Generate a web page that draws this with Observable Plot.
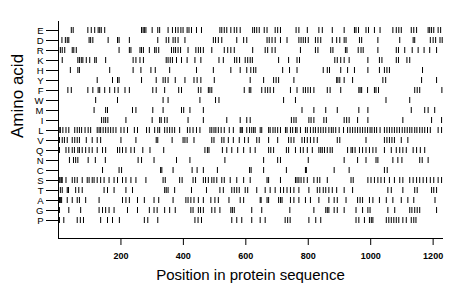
<!DOCTYPE html>
<html><head><meta charset="utf-8">
<script src="https://cdn.jsdelivr.net/npm/d3@7"></script>
<script src="https://cdn.jsdelivr.net/npm/@observablehq/plot@0.6"></script>
<style>body{margin:0;background:#fff;} svg{display:block}</style>
</head><body><div id="chart"></div>
<script>
const aminoAcids = ["E","D","R","K","H","Y","F","W","M","I","L","V","Q","N","C","S","T","A","G","P"];
const posE = [41,47,94,105,116,127,132,137,148,266,271,275,280,300,318,324,351,365,375,383,392,399,412,418,426,442,458,517,523,531,539,552,563,571,582,622,628,635,643,659,668,694,702,711,761,770,797,834,845,877,915,948,953,961,985,993,1012,1030,1071,1082,1090,1098,1130,1138,1147,1184,1189,1195,1202,1216,1224];
const posD = [11,22,28,33,98,103,110,159,189,194,227,318,345,353,367,374,383,405,496,503,512,523,571,593,603,668,675,684,694,711,732,770,777,784,791,800,823,831,840,877,891,901,915,921,964,971,1023,1093,1136,1141,1191,1200,1208,1222,1229];
const posR = [6,12,20,44,49,57,194,227,232,261,266,272,291,308,313,321,362,369,375,383,391,415,440,448,455,464,491,531,542,552,563,622,662,670,684,694,775,823,831,872,879,919,924,960,969,976,1023,1082,1089,1109,1133,1152,1171,1189,1211];
const posK = [12,62,67,73,78,89,100,116,121,151,239,248,261,272,345,351,358,365,378,394,412,437,456,514,528,564,571,580,598,606,614,621,705,737,764,772,885,893,904,915,931,991,1028,1036,1082,1089,1116,1125];
const posH = [38,62,67,164,239,264,296,310,356,442,496,552,582,603,616,625,632,718,740,764,848,861,868,904,926,948,991,1028,1044,1052,1060,1166];
const posY = [124,173,189,194,266,313,335,342,351,374,405,434,444,456,499,614,657,689,697,705,754,891,895,901,915,942,1039,1048,1163,1211];
const posF = [30,41,94,110,127,132,148,164,180,191,213,227,302,313,340,385,394,448,456,480,485,491,595,611,616,651,662,670,678,689,743,764,784,791,799,807,818,861,870,904,962,966,971,990,1012,1017,1025,1141,1149,1157,1228];
const posW = [119,189,335,351,453,503,514,721,759,1049,1125];
const posM = [114,151,157,237,248,302,335,394,401,421,464,780,818,856,893,962,991,1130,1173,1184,1205];
const posI = [138,145,151,158,216,300,324,329,340,348,415,464,539,582,603,614,746,754,761,802,809,818,850,858,915,923,931,958,991,1103,1195,1227];
const posL = [2,6,14,24,33,52,60,67,74,85,95,103,124,130,135,143,151,159,167,175,184,200,210,221,243,253,282,291,308,318,324,340,348,356,364,372,388,413,421,431,442,453,485,491,498,504,512,521,531,547,560,582,585,589,603,612,619,625,630,646,651,673,678,687,694,702,711,727,732,743,750,759,764,775,791,797,807,816,823,832,840,848,856,866,874,880,888,899,913,926,934,942,950,958,966,974,982,990,998,1004,1012,1019,1030,1044,1052,1060,1068,1076,1084,1092,1101,1109,1117,1125,1132,1141,1148,1157,1165,1173,1182,1191,1216,1227];
const posV = [3,12,19,28,44,52,60,67,89,108,124,135,200,248,313,318,364,399,405,412,434,491,498,523,530,544,560,579,596,608,635,643,673,702,737,745,754,780,788,797,807,818,829,893,901,985,1044,1052,1060,1068,1076,1098,1119];
const posQ = [3,24,33,44,51,62,67,76,87,98,108,124,141,151,189,196,205,216,232,243,270,293,337,469,477,482,525,539,555,574,593,614,630,673,680,689,730,737,759,775,784,797,813,834,840,845,852,861,870,877,926,937,942,950,964,974,985,996,1007,1017,1044,1066,1082,1093,1103,1114,1136,1147,1159,1173];
const posN = [35,48,55,62,95,118,150,255,266,306,378,421,533,657,702,711,800,915,958,985,1017,1023,1071,1087,1100,1157,1165,1184];
const posC = [141,194,202,327,331,367,428,444,464,509,612,617,657,730,791,794,883,931,1044,1053];
const posS = [2,5,9,12,24,44,52,60,76,92,98,108,114,124,135,146,162,178,189,205,216,232,248,280,335,342,388,396,431,439,464,471,480,491,498,507,523,531,550,571,593,614,668,673,711,759,764,770,777,786,797,818,829,837,861,937,944,991,1001,1012,1023,1033,1044,1060,1076,1093,1103,1125,1136,1147,1157,1168,1179,1191,1202,1216,1227];
const posT = [6,12,28,32,55,65,76,146,157,178,216,237,340,345,351,372,426,474,517,528,555,563,571,579,598,606,635,662,678,694,711,721,732,743,754,770,802,829,837,848,856,866,877,891,915,942,1055,1066,1103,1141,1149,1195,1202,1211];
const posA = [3,6,10,28,44,60,67,87,130,205,216,227,253,275,306,321,367,408,415,424,434,448,464,488,501,512,546,582,593,646,649,668,673,705,711,716,743,754,770,791,807,834,866,883,893,921,958,966,974,996,1007,1028,1050,1071,1098,1119,1138,1206];
const posG = [3,33,71,130,141,151,162,178,221,253,291,306,316,340,356,374,424,431,448,455,464,491,501,517,552,557,563,619,651,741,818,856,861,866,883,893,915,953,974,991,998,1055,1077,1125,1132,1141,1149,1157,1211];
const posP = [3,17,60,70,80,135,157,173,195,275,286,318,437,447,458,555,571,587,619,646,662,726,734,742,802,824,840,953,962,980,996,1002,1007,1050,1058,1066,1074,1082,1090,1103,1114,1130,1138,1145];
const xTicks = [200,400,600,800,1000,1200];
const xTitle = "Position in protein sequence";
const yTitle = "Amino acid";

const positionLists = [posE,posD,posR,posK,posH,posY,posF,posW,posM,posI,posL,posV,posQ,posN,posC,posS,posT,posA,posG,posP];
const data = aminoAcids.flatMap((aa, i) => positionLists[i].map(p => ({aa, pos: p})));

const chart = Plot.plot({
  width: 460, height: 299,
  marginLeft: 58, marginRight: 18, marginTop: 21, marginBottom: 61,
  style: {fontFamily: "'Liberation Sans', Arial, sans-serif", background: "white", color: "black"},
  x: {domain: [0, 1230]},
  y: {type: "band", domain: aminoAcids, range: [16.6, 233.4], paddingInner: 0.4, paddingOuter: 0.2},
  marks: [
    Plot.tickX(data, {x: "pos", y: "aa", stroke: "black", strokeWidth: 1}),
    Plot.frame({anchor: "left", stroke: "black"}),
    Plot.frame({anchor: "bottom", stroke: "black"}),
    Plot.axisY({tickSize: 12, tickPadding: 3, fontSize: 9.5, fill: "black", stroke: "black", label: null}),
    Plot.axisX({ticks: xTicks, tickFormat: d => String(d), tickSize: 7, tickPadding: 7, fontSize: 9, fontWeight: "bold", fill: "black", stroke: "black", label: null}),
    Plot.text([xTitle], {text: d => d, frameAnchor: "bottom", dy: 41, fontSize: 15, fill: "black"}),
    Plot.text([yTitle], {text: d => d, frameAnchor: "left", dx: -41, dy: 8, rotate: -90, fontSize: 17, fill: "black"})
  ]
});
document.getElementById("chart").appendChild(chart);
</script>
</body></html>
